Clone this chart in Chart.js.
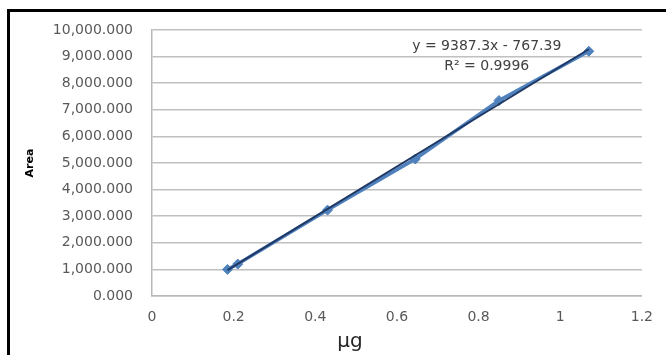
<!DOCTYPE html>
<html>
<head>
<meta charset="utf-8">
<script src="https://cdn.jsdelivr.net/npm/chart.js@4"></script>
<style>
  html, body { margin: 0; padding: 0; background: #fff; }
  #wrap { position: relative; width: 666px; height: 355px; overflow: hidden; }
  #frame { position: absolute; left: 7px; top: 9px; width: 700px; height: 400px;
           border-left: 3px solid #000; border-top: 3px solid #000; pointer-events: none; }
  canvas { position: absolute; left: 0; top: 0; }
</style>
</head>
<body>
<div id="wrap">
  <canvas id="c" width="666" height="355"></canvas>
  <div id="frame"></div>
</div>
<script>
// ---- data ----
const xValues = [0.185, 0.21, 0.43, 0.645, 0.85, 1.07];   // µg
const areaValues = [1000, 1200, 3230, 5150, 7350, 9200];   // Area
const trendSlope = [9387.3];
const trendIntercept = [-767.39];
const equationLabels = ["y = 9387.3x - 767.39", "R² = 0.9996"];
const xTickValues = [0, 0.2, 0.4, 0.6, 0.8, 1, 1.2];
const yTickMax = 10000;
const yTickStep = 1000;
const xAxisTitle = "µg";
const yAxisTitle = "Area";

const points = xValues.map((x, i) => ({ x: x, y: areaValues[i] }));
const xMin = Math.min(...xValues), xMax = Math.max(...xValues);
const trend = [xMin, xMax].map(x => ({ x: x, y: trendSlope[0] * x + trendIntercept[0] }));

const textPlugin = {
  id: 'texts',
  afterDatasetsDraw(chart) {
    const { ctx, scales } = chart;
    const cx = scales.x.getPixelForValue(0.82);
    const y1 = scales.y.getPixelForValue(9380);
    const y2 = scales.y.getPixelForValue(8630);
    ctx.save();
    ctx.fillStyle = '#404040';
    ctx.font = '14px "DejaVu Sans"';
    ctx.textAlign = 'center';
    ctx.textBaseline = 'middle';
    ctx.fillText(equationLabels[0], cx, y1);
    ctx.fillText(equationLabels[1], cx, y2);
    // x axis title, placed under the 0.48 position as in the reference
    ctx.fillStyle = '#262626';
    ctx.font = '20px "DejaVu Sans"';
    ctx.fillText(xAxisTitle, scales.x.getPixelForValue(0.485), 342);
    ctx.restore();
  }
};

new Chart(document.getElementById('c'), {
  type: 'scatter',
  data: {
    datasets: [
      {
        label: 'trend',
        data: trend,
        showLine: true,
        borderColor: '#1F3864',
        borderWidth: 2,
        pointRadius: 0,
        fill: false
      },
      {
        label: 'Area',
        data: points,
        showLine: true,
        borderColor: '#4F81BD',
        backgroundColor: '#4F81BD',
        borderWidth: 3.5,
        pointStyle: 'rectRot',
        pointRadius: 5,
        pointBorderWidth: 1,
        fill: false
      }
    ]
  },
  options: {
    responsive: false,
    animation: false,
    devicePixelRatio: 1,
    layout: { padding: { top: 30, right: 21, bottom: 0, left: 0 } },
    plugins: { legend: { display: false }, tooltip: { enabled: false } },
    scales: {
      x: {
        type: 'linear',
        min: 0, max: 1.2,
        afterBuildTicks(scale) { scale.ticks = xTickValues.map(v => ({ value: v })); },
        afterFit(scale) { scale.height = 59; },
        grid: { display: false, drawTicks: false },
        border: { display: true, color: '#b8b8b8', width: 1.5 },
        ticks: {
          padding: 13,
          color: '#595959',
          font: { family: 'DejaVu Sans', size: 14 },
          callback: v => String(Number(v.toFixed(1)))
        },
        title: { display: false }
      },
      y: {
        type: 'linear',
        min: 0, max: yTickMax,
        ticks: {
          stepSize: yTickStep,
          padding: 19,
          color: '#595959',
          font: { family: 'DejaVu Sans', size: 14 },
          callback: v => v.toLocaleString('en-US', { minimumFractionDigits: 3, maximumFractionDigits: 3 })
        },
        afterFit(scale) { scale.width = 152; },
        grid: { color: '#c0c0c0', lineWidth: 1.5, drawTicks: false },
        border: { display: true, color: '#b8b8b8', width: 1.5 },
        title: {
          display: true, text: yAxisTitle, color: '#000',
          font: { family: 'DejaVu Sans', size: 11, weight: 'bold' },
          padding: { top: 24, bottom: 0 }
        }
      }
    }
  },
  plugins: [textPlugin]
});
</script>
</body>
</html>
